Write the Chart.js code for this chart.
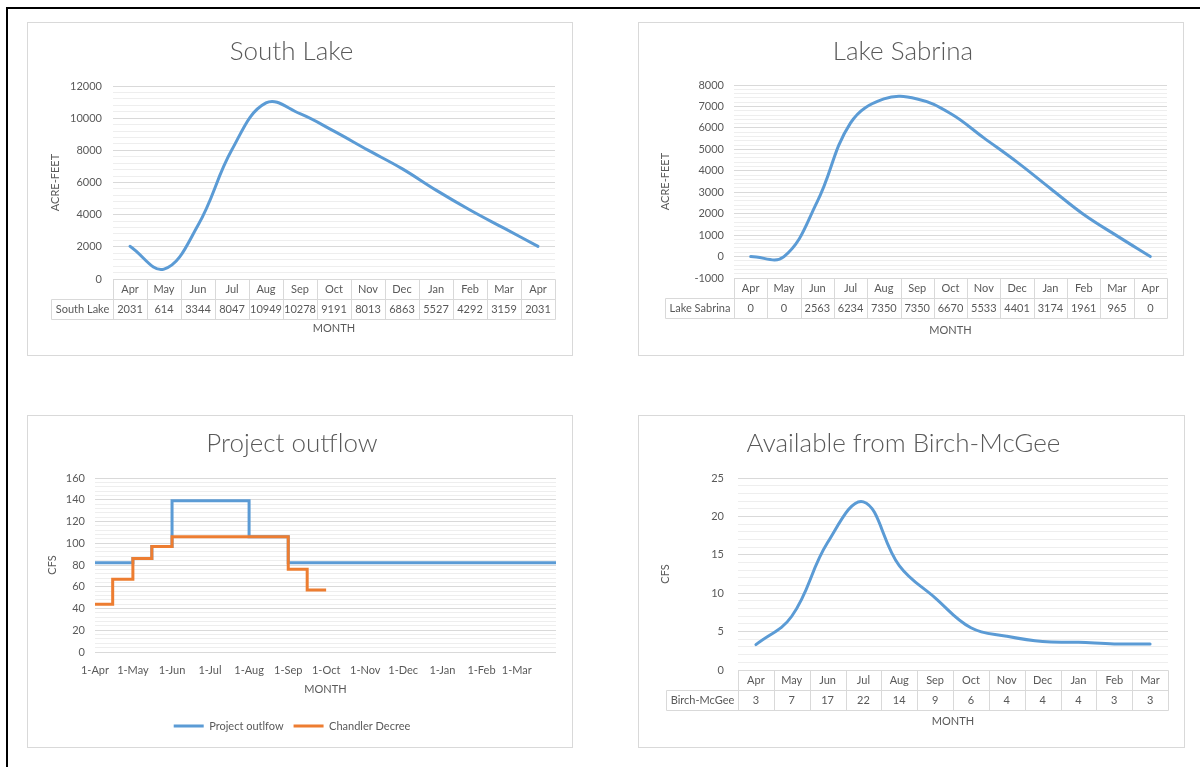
<!DOCTYPE html>
<html>
<head>
<meta charset="utf-8">
<script src="https://cdn.jsdelivr.net/npm/chart.js@4.4.1/dist/chart.umd.min.js"></script>
<style>
  html, body { margin: 0; padding: 0; background: #fff; }
  body { width: 1200px; height: 767px; position: relative; overflow: hidden; }
  #frame { position: absolute; left: 6px; top: 7px; width: 1300px; height: 900px; border-left: 2px solid #000; border-top: 2px solid #000; }
  .box { position: absolute; border: 1px solid #d9d9d9; box-sizing: border-box; background: #fff; }
  .box canvas { display: block; }
</style>
</head>
<body>
<div id="frame"></div>
<div class="box" style="left:27px;top:22px;width:546px;height:334px"><canvas id="south" width="544" height="332"></canvas></div>
<div class="box" style="left:638px;top:22px;width:546px;height:334px"><canvas id="sabrina" width="544" height="332"></canvas></div>
<div class="box" style="left:27px;top:415px;width:546px;height:333px"><canvas id="outflow" width="544" height="331"></canvas></div>
<div class="box" style="left:638px;top:415px;width:547px;height:333px"><canvas id="birch" width="545" height="331"></canvas></div>
<script>
// values
const months = ["Apr", "May", "Jun", "Jul", "Aug", "Sep", "Oct", "Nov", "Dec", "Jan", "Feb", "Mar", "Apr"];
const southLake = [2031, 614, 3344, 8047, 10949, 10278, 9191, 8013, 6863, 5527, 4292, 3159, 2031];
const lakeSabrina = [0, 0, 2563, 6234, 7350, 7350, 6670, 5533, 4401, 3174, 1961, 965, 0];

const birchMonths = ["Apr", "May", "Jun", "Jul", "Aug", "Sep", "Oct", "Nov", "Dec", "Jan", "Feb", "Mar"];
const birchMcGee = [3.3, 7, 16.6, 21.9, 13.6, 9.4, 5.5, 4.4, 3.7, 3.6, 3.4, 3.4];
const birchTable = [3, 7, 17, 22, 14, 9, 6, 4, 4, 4, 3, 3];

// project outflow: days counted from 1-Apr
const outflowTickDays = [0, 30, 61, 91, 122, 153, 183, 214, 244, 275, 306, 334];
const outflowTickLabels = ["1-Apr", "1-May", "1-Jun", "1-Jul", "1-Aug", "1-Sep", "1-Oct", "1-Nov", "1-Dec", "1-Jan", "1-Feb", "1-Mar"];
const outflowDays = [0, 30, 45, 61, 122, 153, 365];
const outflowCfs = [82, 86, 97, 139, 106, 82, 82];
const decreeDays = [0, 14, 30, 45, 61, 153, 168, 183];
const decreeCfs = [44, 67, 86, 97, 106, 76, 57, 57];

const BLUE = "#5b9bd5";
const ORANGE = "#ed7d31";
const TEXT = "#595959";
const GRID_MAJOR = "#d9d9d9";
const GRID_MINOR = "#eeeeee";
const TITLE_FONT = { size: 26, weight: "300", lineHeight: 1.2 };
const AXIS_FONT = { size: 11, lineHeight: 1.2 };

Chart.defaults.font.family = "Lato, 'Open Sans', sans-serif";
Chart.defaults.color = TEXT;

//draws the data table under the category axis
const dataTable = {
    id: "dataTable",
    afterDraw(chart, args, opts) {
        const x = chart.scales.x;
        const ctx = chart.ctx;
        const h = opts.rowHeight;
        const n = x.ticks.length;
        const step = x.getPixelForTick(1) - x.getPixelForTick(0);
        const first = x.getPixelForTick(0) - step / 2;
        const left = Math.round(first) + 0.5;
        const right = Math.round(first + n * step) + 0.5;
        const top = Math.round(chart.chartArea.bottom) + 0.5;
        ctx.save();
        ctx.font = "11px Lato, 'Open Sans', sans-serif";
        const labelW = ctx.measureText(opts.rowLabel).width;
        const cellLeft = Math.round(left - labelW - 9) + 0.5;
        ctx.strokeStyle = GRID_MAJOR;
        ctx.lineWidth = 1;
        ctx.beginPath();
        ctx.moveTo(left, top);
        ctx.lineTo(right, top);
        ctx.moveTo(cellLeft, top + h);
        ctx.lineTo(right, top + h);
        ctx.moveTo(cellLeft, top + 2 * h);
        ctx.lineTo(right, top + 2 * h);
        ctx.moveTo(cellLeft, top + h);
        ctx.lineTo(cellLeft, top + 2 * h);
        for (let i = 0; i <= n; i++) {
            const px = Math.round(first + i * step) + 0.5;
            ctx.moveTo(px, top);
            ctx.lineTo(px, top + 2 * h);
        }
        ctx.stroke();
        ctx.fillStyle = TEXT;
        ctx.textAlign = "center";
        ctx.textBaseline = "middle";
        ctx.fillText(opts.rowLabel, (cellLeft + left) / 2, top + h * 1.5);
        ctx.restore();
    }
};

function yScale(o) {
    return {
        min: o.min,
        max: o.max,
        ticks: {
            stepSize: o.step,
            autoSkip: false,
            padding: o.tickPad,
            font: { size: 11 },
            callback: v => (v % o.major === 0 ? String(v) : "")
        },
        grid: {
            drawTicks: false,
            color: c => (c.tick && c.tick.value % o.major === 0 ? GRID_MAJOR : GRID_MINOR)
        },
        border: { display: false },
        title: { display: true, text: o.yTitle, font: AXIS_FONT, padding: { top: o.yTitlePad, bottom: 0 } },
        afterFit: s => { s.width = o.yWidth; }
    };
}

function tableChart(id, o) {
    return new Chart(document.getElementById(id), {
        type: "line",
        data: {
            labels: o.labels,
            datasets: [{
                label: o.name,
                data: o.values,
                borderColor: BLUE,
                borderWidth: 3,
                borderCapStyle: "round",
                pointRadius: 0,
                tension: 0.4,
                fill: false
            }]
        },
        options: {
            responsive: false,
            animation: false,
            events: [],
            layout: { padding: { left: 0, right: o.padRight, top: 0, bottom: 0 } },
            plugins: {
                legend: { display: false },
                tooltip: { enabled: false },
                title: { display: true, text: o.title, font: TITLE_FONT, padding: { top: o.titleTop, bottom: o.titleBottom } },
                dataTable: { rowLabel: o.name, rowHeight: 20 }
            },
            scales: {
                x: {
                    type: "category",
                    offset: true,
                    grid: { display: false, drawTicks: false },
                    border: { display: false },
                    ticks: {
                        autoSkip: false,
                        maxRotation: 0,
                        padding: 0,
                        font: { size: 11, lineHeight: "20px" },
                        callback: (v, i) => [o.labels[i], String(o.table[i])]
                    },
                    title: { display: true, text: "MONTH", font: AXIS_FONT, padding: { top: 0, bottom: o.monthPad } },
                    afterFit: s => { s.height = o.xHeight; }
                },
                y: yScale(o)
            }
        },
        plugins: [dataTable]
    });
}

tableChart("south", {
    title: "South Lake", name: "South Lake", labels: months, values: southLake, table: southLake,
    min: 0, max: 12000, step: 400, major: 2000, yTitle: "ACRE-FEET",
    yWidth: 85, yTitlePad: 20.4, tickPad: 11, padRight: 17,
    titleTop: 13.4, titleBottom: 18.4, xHeight: 76, monthPad: 20.4
});

tableChart("sabrina", {
    title: "Lake Sabrina", name: "Lake Sabrina", labels: months, values: lakeSabrina, table: lakeSabrina,
    min: -1000, max: 8000, step: 200, major: 1000, yTitle: "ACRE-FEET",
    yWidth: 95, yTitlePad: 19.4, tickPad: 10, padRight: 16,
    titleTop: 13.4, titleBottom: 17.4, xHeight: 77, monthPad: 18.4
});

tableChart("birch", {
    title: "Available from Birch-McGee", name: "Birch-McGee", labels: birchMonths, values: birchMcGee, table: birchTable,
    min: 0, max: 25, step: 1, major: 5, yTitle: "CFS",
    yWidth: 99, yTitlePad: 19.4, tickPad: 14, padRight: 16,
    titleTop: 12.4, titleBottom: 18.4, xHeight: 77, monthPad: 19.4
});

new Chart(document.getElementById("outflow"), {
    type: "line",
    data: {
        datasets: [{
            label: "Project outlfow",
            data: outflowDays.map((d, i) => ({ x: d, y: outflowCfs[i] })),
            borderColor: BLUE,
            borderWidth: 3,
            stepped: true,
            pointRadius: 0,
            order: 1
        }, {
            label: "Chandler Decree",
            data: decreeDays.map((d, i) => ({ x: d, y: decreeCfs[i] })),
            borderColor: ORANGE,
            borderWidth: 3,
            stepped: true,
            pointRadius: 0,
            order: 0
        }]
    },
    options: {
        responsive: false,
        animation: false,
        events: [],
        layout: { padding: { left: 0, right: 16, top: 0, bottom: 5.5 } },
        plugins: {
            tooltip: { enabled: false },
            title: { display: true, text: "Project outflow", font: TITLE_FONT, padding: { top: 12.4, bottom: 18.4 } },
            legend: {
                position: "bottom",
                labels: {
                    usePointStyle: true,
                    pointStyle: "line",
                    pointStyleWidth: 30,
                    font: { size: 11 },
                    padding: 10,
                    sort: (a, b) => a.datasetIndex - b.datasetIndex
                }
            }
        },
        scales: {
            x: {
                type: "linear",
                min: 0,
                max: 365,
                grid: { display: false, drawTicks: false },
                border: { display: false },
                afterBuildTicks: s => { s.ticks = outflowTickDays.map(v => ({ value: v })); },
                ticks: {
                    autoSkip: false,
                    maxRotation: 0,
                    padding: 11.4,
                    font: { size: 11 },
                    callback: (v, i) => outflowTickLabels[i]
                },
                title: { display: true, text: "MONTH", font: AXIS_FONT, padding: { top: 0, bottom: 14.9 } },
                afterFit: s => { s.height = 58.5; }
            },
            y: yScale({ min: 0, max: 160, step: 4, major: 20, yTitle: "CFS", yWidth: 67, yTitlePad: 17.4, tickPad: 10 })
        }
    }
});
</script>
</body>
</html>
